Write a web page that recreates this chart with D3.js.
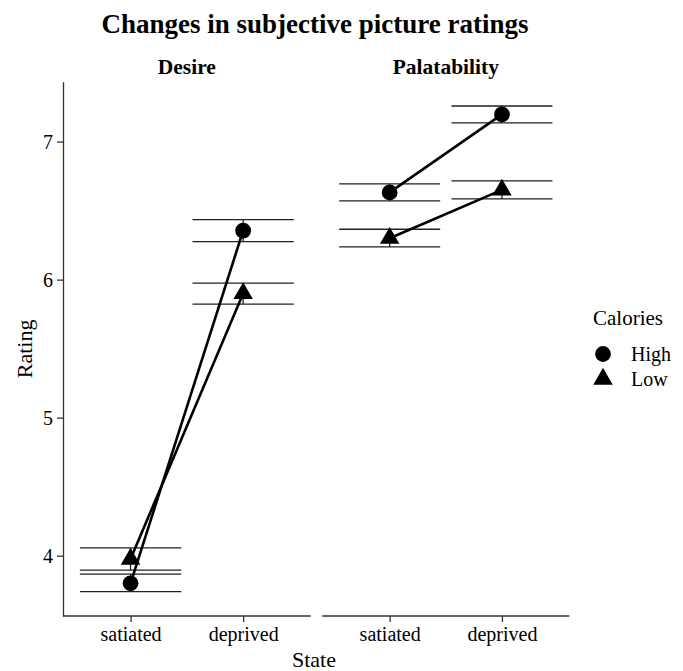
<!DOCTYPE html>
<html>
<head>
<meta charset="utf-8">
<script src="https://cdn.jsdelivr.net/npm/d3@7"></script>
<style>
  body { margin: 0; background: #fff; }
  text { font-family: "Liberation Serif", "Times New Roman", serif; fill: #000; }
</style>
</head>
<body>
<div id="chart"></div>
<script>
// facets, x categories, groups
const panels = ["Desire", "Palatability"];
const states = ["satiated", "deprived"];
const calories = ["High", "Low"];
const yTicks = [4, 5, 6, 7];

// mean rating and error bar limits, [satiated, deprived]
const desireHighMean = [3.80, 6.355];
const desireHighLo = [3.739, 6.276];
const desireHighHi = [3.867, 6.435];
const desireLowMean = [3.976, 5.90];
const desireLowLo = [3.896, 5.823];
const desireLowHi = [4.056, 5.975];
const palatHighMean = [6.632, 7.197];
const palatHighLo = [6.570, 7.136];
const palatHighHi = [6.694, 7.258];
const palatLowMean = [6.30, 6.65];
const palatLowLo = [6.237, 6.585];
const palatLowHi = [6.365, 6.716];

const series = {
  Desire: {
    High: [desireHighMean, desireHighLo, desireHighHi],
    Low: [desireLowMean, desireLowLo, desireLowHi]
  },
  Palatability: {
    High: [palatHighMean, palatHighLo, palatHighHi],
    Low: [palatLowMean, palatLowLo, palatLowHi]
  }
};

const rows = [];
panels.forEach(p => calories.forEach(c => states.forEach((s, i) => {
  const [m, lo, hi] = series[p][c];
  rows.push({panel: p, cal: c, state: s, mean: m[i], lo: lo[i], hi: hi[i]});
})));

const W = 683, H = 671;
const plotTop = 81.7, plotBottom = 616;
const panelX = {Desire: [63, 310.7], Palatability: [322.3, 569.3]};

const svg = d3.select("#chart").append("svg")
  .attr("width", W).attr("height", H);

// y scale with ggplot-like 5% expansion
const ext = [d3.min(rows, d => d.lo), d3.max(rows, d => d.hi)];
const pad = (ext[1] - ext[0]) * 0.05;
const y = d3.scaleLinear().domain([ext[0] - pad, ext[1] + pad]).range([plotBottom, plotTop]);

const shape = {
  High: d3.symbol().type(d3.symbolCircle).size(195),
  Low: d3.symbol().type(d3.symbolTriangle).size(165)
};

// title
svg.append("text")
  .attr("x", 315).attr("y", 33)
  .attr("text-anchor", "middle")
  .style("font-size", "27px").style("font-weight", "bold")
  .text("Changes in subjective picture ratings");

panels.forEach((p, pi) => {
  const [x0, x1] = panelX[p];
  const x = d3.scalePoint().domain(states).range([x0, x1]).padding(0.6);
  const half = x.step() * 0.45;
  const g = svg.append("g");

  // strip label
  g.append("text")
    .attr("x", (x0 + x1) / 2).attr("y", 74)
    .attr("text-anchor", "middle")
    .style("font-size", "21.5px").style("font-weight", "bold")
    .text(p);

  // x axis
  const xa = g.append("g")
    .attr("transform", `translate(0,${plotBottom})`)
    .call(d3.axisBottom(x).tickSize(6).tickPadding(5).tickSizeOuter(0));
  xa.select(".domain").attr("d", `M${x0},0H${x1}`).attr("stroke", "#333").attr("stroke-width", 1.3);
  xa.selectAll(".tick line").attr("stroke", "#333").attr("stroke-width", 1.3);
  xa.selectAll(".tick text")
    .style("font-family", "Liberation Serif").style("font-size", "20px").attr("fill", "#000");

  if (pi === 0) {
    const ya = g.append("g")
      .attr("transform", `translate(${x0},0)`)
      .call(d3.axisLeft(y).tickValues(yTicks).tickFormat(d3.format("d")).tickSize(6).tickPadding(4).tickSizeOuter(0));
    ya.select(".domain").attr("stroke", "#333").attr("stroke-width", 1.3);
    ya.selectAll(".tick line").attr("stroke", "#333").attr("stroke-width", 1.3);
    ya.selectAll(".tick text")
      .style("font-family", "Liberation Serif").style("font-size", "20px").attr("fill", "#000");
  }

  const data = rows.filter(d => d.panel === p);

  // error bars
  data.forEach(d => {
    const cx = x(d.state);
    g.append("path")
      .attr("d", `M${cx - half},${y(d.hi)}H${cx + half}M${cx},${y(d.hi)}V${y(d.lo)}M${cx - half},${y(d.lo)}H${cx + half}`)
      .attr("fill", "none").attr("stroke", "#222").attr("stroke-width", 1.3);
  });

  // connecting lines
  const line = d3.line().x(d => x(d.state)).y(d => y(d.mean));
  calories.forEach(c => {
    g.append("path")
      .datum(data.filter(d => d.cal === c))
      .attr("d", line)
      .attr("fill", "none").attr("stroke", "#000").attr("stroke-width", 2.6);
  });

  // points
  g.selectAll(".pt").data(data).enter().append("path")
    .attr("class", "pt")
    .attr("transform", d => `translate(${x(d.state)},${y(d.mean)})`)
    .attr("d", d => shape[d.cal]())
    .attr("fill", "#000");
});

// axis titles
svg.append("text")
  .attr("x", 314).attr("y", 667)
  .attr("text-anchor", "middle")
  .style("font-size", "22px")
  .text("State");

svg.append("text")
  .attr("transform", `translate(32,${(plotTop + plotBottom) / 2}) rotate(-90)`)
  .attr("text-anchor", "middle")
  .style("font-size", "22px")
  .text("Rating");

// legend
const leg = svg.append("g").attr("transform", "translate(593,0)");
leg.append("text").attr("x", 0).attr("y", 325)
  .style("font-size", "21px").text("Calories");
calories.forEach((c, i) => {
  const cy = 354 + i * 25;
  leg.append("path")
    .attr("transform", `translate(10,${cy})`)
    .attr("d", shape[c]())
    .attr("fill", "#000");
  leg.append("text").attr("x", 38).attr("y", cy + 7)
    .style("font-size", "20px").text(c);
});
</script>
</body>
</html>
